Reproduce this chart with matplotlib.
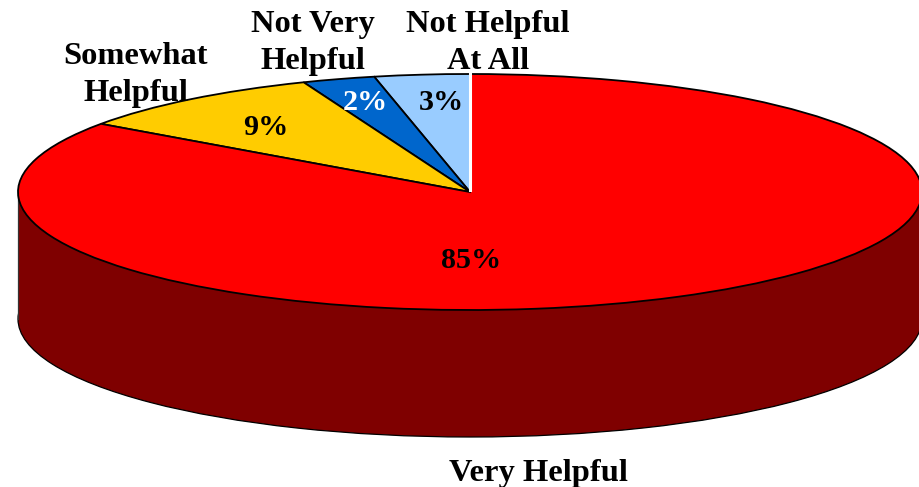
import matplotlib
matplotlib.use("Agg")
import matplotlib.pyplot as plt
from matplotlib.patches import Rectangle

categories = ["Not Helpful\nAt All", "Not Very\nHelpful", "Somewhat\nHelpful", "Very Helpful"]
# slice shares as drawn (labels are the rounded published percentages)
shares = [3.4, 2.6, 9.2, 84.8]
pct_labels = ["3%", "2%", "9%", "85%"]
colors = ["#99CCFF", "#0066CC", "#FFCC00", "#FF0000"]
pct_colors = ["black", "white", "black", "black"]

W, H = 920, 487
CX, CY, RX, RY, DEPTH = 470, 192, 452, 118, 127
plt.rcParams["font.family"] = ["Liberation Serif", "DejaVu Serif"]

fig = plt.figure(figsize=(W / 100, H / 100), dpi=100)
ax = fig.add_axes([0, 0, 1, 1])

def ux(px):
    return (px - CX) / RX

def uy(py):
    return (CY - py) / RY

d = DEPTH / RY
# extruded side
ax.pie([1], colors=["#7F0000"], radius=1, center=(0, -d),
       wedgeprops=dict(edgecolor="black", linewidth=0.9, zorder=1))
ax.add_patch(Rectangle((-1, -d), 2, d, facecolor="#7F0000", edgecolor="none", zorder=2))
ax.plot([-1, -1], [-d, 0], color="#333333", lw=0.9, zorder=3)
# top face
wedges, _ = ax.pie(shares, colors=colors, startangle=90, radius=1, center=(0, 0),
                   wedgeprops=dict(edgecolor="black", linewidth=1.3, zorder=4))
for w in wedges:
    w.set_zorder(4)
ax.plot([ux(470.5), ux(470.5)], [uy(190), uy(73)], color="white", lw=2.2, zorder=5)

ax.set_aspect("auto")
ax.set_xlim(ux(0), ux(W))
ax.set_ylim(uy(H), uy(0))
ax.axis("off")

FS = 23.4
label_pos = [(488, 43), (313, 43), (136, 75), (538, 473)]
pct_pos = [(441, 102), (365, 102), (266, 127), (471, 260)]
for name, (x, y) in zip(categories, label_pos):
    ax.text(ux(x), uy(y), name, ha="center", va="center", fontsize=FS,
            fontweight="bold", linespacing=1.33, color="black", zorder=6)
for lab, col, (x, y) in zip(pct_labels, pct_colors, pct_pos):
    ax.text(ux(x), uy(y), lab, ha="center", va="center", fontsize=21.7,
            fontweight="bold", color=col, zorder=6)

fig.savefig("out.png", dpi=100)
